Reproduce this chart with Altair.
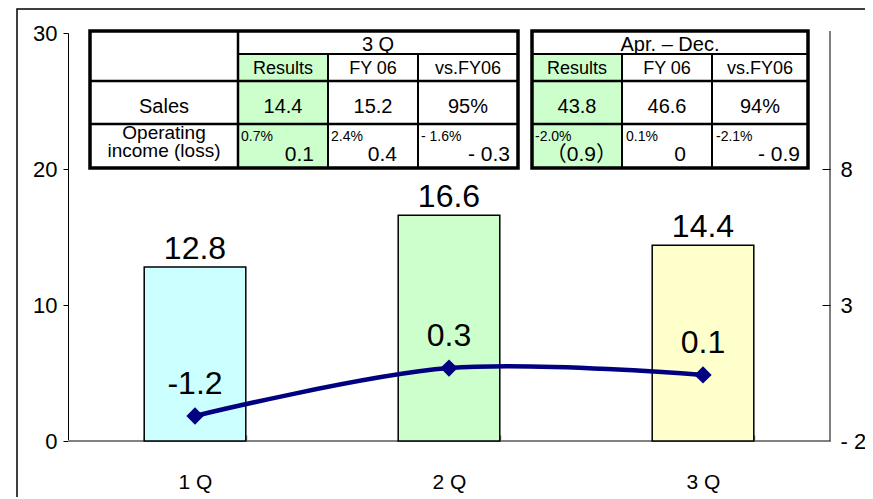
import altair as alt
import pandas as pd

# ---------------- data ----------------
quarters = ["1 Q", "2 Q", "3 Q"]
sales = [12.8, 16.6, 14.4]
bar_colors = ["#ccffff", "#ccffcc", "#ffffcc"]
op_income_pos = [-1.08, 0.68, 0.43]          # where the markers are drawn
op_income_labels = ["-1.2", "0.3", "0.1"]    # printed labels

t1_title = "3 Q"
t2_title = "Apr. \u2013 Dec."
col_heads = ["Results", "FY 06", "vs.FY06"]
row_heads = ["Sales", "Operating\nincome (loss)"]
t1_sales = ["14.4", "15.2", "95%"]
t1_pct = ["0.7%", "2.4%", "- 1.6%"]
t1_op = ["0.1", "0.4", "- 0.3"]
t2_sales = ["43.8", "46.6", "94%"]
t2_pct = ["-2.0%", "0.1%", "-2.1%"]
t2_op = ["\uff080.9\uff09", "0", "- 0.9"]

# ---------------- layout ----------------
W, H = 762, 408
FONT = "Liberation Sans, Arial, Noto Sans CJK JP, sans-serif"
T1_COLS = [22, 170, 260, 350, 450]
T2_COLS = [464, 554, 644, 740]
ROWS = [-2, 21, 48, 91, 135]

# table fills & outer frames
fills = pd.DataFrame([
    dict(x=T1_COLS[1], x2=T1_COLS[2], y=ROWS[1], y2=ROWS[4]),
    dict(x=T2_COLS[0], x2=T2_COLS[1], y=ROWS[1], y2=ROWS[4]),
])
frames = pd.DataFrame([
    dict(x=T1_COLS[0], x2=T1_COLS[4], y=ROWS[0], y2=ROWS[4]),
    dict(x=T2_COLS[0], x2=T2_COLS[3], y=ROWS[0], y2=ROWS[4]),
])
lines = []
# table 1
lines.append(dict(x=T1_COLS[1], x2=T1_COLS[1], y=ROWS[0], y2=ROWS[4], w=2.5))
for c in T1_COLS[2:4]:
    lines.append(dict(x=c, x2=c, y=ROWS[1], y2=ROWS[4], w=2))
lines.append(dict(x=T1_COLS[1], x2=T1_COLS[4], y=ROWS[1], y2=ROWS[1], w=2))
for r in ROWS[2:4]:
    lines.append(dict(x=T1_COLS[0], x2=T1_COLS[4], y=r, y2=r, w=2.5))
# table 2
for c in T2_COLS[1:3]:
    lines.append(dict(x=c, x2=c, y=ROWS[1], y2=ROWS[4], w=2))
lines.append(dict(x=T2_COLS[0], x2=T2_COLS[3], y=ROWS[1], y2=ROWS[1], w=2))
for r in ROWS[2:4]:
    lines.append(dict(x=T2_COLS[0], x2=T2_COLS[3], y=r, y2=r, w=2.5))
lines = pd.DataFrame(lines)

t1_centers = [(T1_COLS[i] + T1_COLS[i + 1]) / 2 for i in range(1, 4)]
t2_centers = [(T2_COLS[i] + T2_COLS[i + 1]) / 2 for i in range(0, 3)]
label_center = (T1_COLS[0] + T1_COLS[1]) / 2

center_txt = []
center_txt.append(dict(x=(T1_COLS[1] + T1_COLS[4]) / 2, y=18, text=t1_title, fs=20))
center_txt.append(dict(x=(T2_COLS[0] + T2_COLS[3]) / 2, y=18, text=t2_title, fs=20))
for cx, t in zip(t1_centers, col_heads):
    center_txt.append(dict(x=cx, y=41, text=t, fs=18))
for cx, t in zip(t2_centers, col_heads):
    center_txt.append(dict(x=cx, y=41, text=t, fs=18))
center_txt.append(dict(x=label_center, y=80, text=row_heads[0], fs=20))
for cx, t in zip(t1_centers, t1_sales):
    center_txt.append(dict(x=cx, y=80, text=t, fs=20))
for cx, t in zip(t2_centers, t2_sales):
    center_txt.append(dict(x=cx, y=80, text=t, fs=20))
center_txt = pd.DataFrame(center_txt)

op_label = pd.DataFrame([dict(x=label_center, y=106, text=row_heads[1], fs=19)])

pct_x = [173, 263, 353, 467, 558, 648]
pct_txt = pd.DataFrame([dict(x=x, y=108, text=t, fs=14)
                        for x, t in zip(pct_x, t1_pct + t2_pct)])
val_x = [246, 329, 442, 549, 618, 732]
val_txt = pd.DataFrame([dict(x=x, y=128, text=t, fs=21)
                        for x, t in zip(val_x, t1_op + t2_op)])

# ---------------- chart ----------------
def px(field):
    return alt.X(field, type="quantitative", scale=None, axis=None)


def py(field):
    return alt.Y(field, type="quantitative", scale=None, axis=None)


border = alt.Chart(pd.DataFrame({"a": [0]})).mark_rect(
    fillOpacity=0, stroke="black", strokeWidth=1.5
).encode(x=alt.value(-51), x2=alt.value(950), y=alt.value(-24), y2=alt.value(700))

fill_layer = alt.Chart(fills).mark_rect(fill="#ccffcc").encode(
    x=px("x"), x2="x2", y=py("y"), y2="y2")
frame_layer = alt.Chart(frames).mark_rect(
    fillOpacity=0, stroke="black", strokeWidth=3.5).encode(
    x=px("x"), x2="x2", y=py("y"), y2="y2")
line_layer = alt.Chart(lines).mark_rule(color="black").encode(
    x=px("x"), x2="x2", y=py("y"), y2="y2",
    strokeWidth=alt.StrokeWidth("w:Q", scale=None))


def text_layer(df, align, baseline="alphabetic", **kw):
    return alt.Chart(df).mark_text(
        font=FONT, color="black", align=align, baseline=baseline, **kw
    ).encode(x=px("x"), y=py("y"), text="text:N",
             size=alt.Size("fs:Q", scale=None))


txt_c = text_layer(center_txt, "center")
txt_op = text_layer(op_label, "center", lineBreak="\n", lineHeight=18)
txt_p = text_layer(pct_txt, "left")
txt_v = text_layer(val_txt, "right")

x_enc = alt.X(
    "quarter:N", sort=quarters,
    scale=alt.Scale(domain=quarters, paddingInner=0.6, paddingOuter=0.3),
    axis=alt.Axis(title=None, domain=False, tickBand="extent", offset=-6,
                  tickSize=6, tickColor="#808080", tickWidth=1.5,
                  labelFontSize=21, labelColor="black", labelFont=FONT,
                  labelPadding=30, labelAngle=0),
)

df_bars = pd.DataFrame({"quarter": quarters, "sales": sales,
                        "label": [f"{v:.1f}" for v in sales]})
y_left = alt.Y(
    "sales:Q", scale=alt.Scale(domain=[0, 30], nice=False, zero=True),
    axis=alt.Axis(title=None, orient="left", values=[0, 10, 20, 30], tickSize=5,
                  labelFontSize=22, labelPadding=6, grid=False,
                  domainColor="black", tickColor="black", labelColor="black",
                  labelFont=FONT, domainWidth=1, tickWidth=1),
)
bars = alt.Chart(df_bars).mark_bar(stroke="black", strokeWidth=1.5).encode(
    x=x_enc, y=y_left,
    color=alt.Color("quarter:N", scale=alt.Scale(domain=quarters, range=bar_colors),
                    legend=None),
)
bar_text = alt.Chart(df_bars).mark_text(
    font=FONT, fontSize=32, dy=-8, baseline="alphabetic", color="black"
).encode(x=x_enc, y=y_left, text="label:N")
base_rule = alt.Chart(df_bars).mark_rule(color="#808080", strokeWidth=1.5).encode(
    y=alt.datum(0))
left_group = alt.layer(base_rule, bars, bar_text)

df_line = pd.DataFrame({"quarter": quarters, "op": op_income_pos,
                        "label": op_income_labels})
y_right = alt.Y(
    "op:Q", scale=alt.Scale(domain=[-2, 13], nice=False, zero=False),
    axis=alt.Axis(title=None, orient="right", values=[-2, 3, 8], offset=-8,
                  tickSize=8, domain=False, grid=False, tickColor="black",
                  tickWidth=1, labelFontSize=22, labelPadding=10,
                  labelColor="black", labelFont=FONT,
                  labelExpr="datum.value < 0 ? '- ' + abs(datum.value) : datum.label"),
)
op_line = alt.Chart(df_line).mark_line(
    color="#000080", strokeWidth=4.5, interpolate="catmull-rom"
).encode(x=x_enc, y=y_right)
op_pts = alt.Chart(df_line).mark_point(
    shape="diamond", filled=True, size=300, color="#000080", opacity=1
).encode(x=x_enc, y=y_right)
op_text = alt.Chart(df_line).mark_text(
    font=FONT, fontSize=32, dy=-22, baseline="alphabetic", color="black"
).encode(x=x_enc, y=y_right, text="label:N")
right_group = alt.layer(op_line, op_pts, op_text)

right_domain = alt.Chart(pd.DataFrame({"a": [0]})).mark_rule(
    color="black", strokeWidth=1
).encode(x=alt.value(W), y=alt.value(-2), y2=alt.value(H))

chart = alt.layer(
    border, fill_layer, frame_layer, line_layer, txt_c, txt_op, txt_p, txt_v,
    left_group, right_group, right_domain,
).resolve_scale(y="independent").properties(
    width=W, height=H,
    autosize=alt.AutoSizeParams(type="none"),
    padding={"left": 60, "top": 25, "right": 35, "bottom": 56},
    background="white",
).configure_view(stroke=None)

chart.save("out.html", embed_options={"renderer": "svg", "actions": False})
